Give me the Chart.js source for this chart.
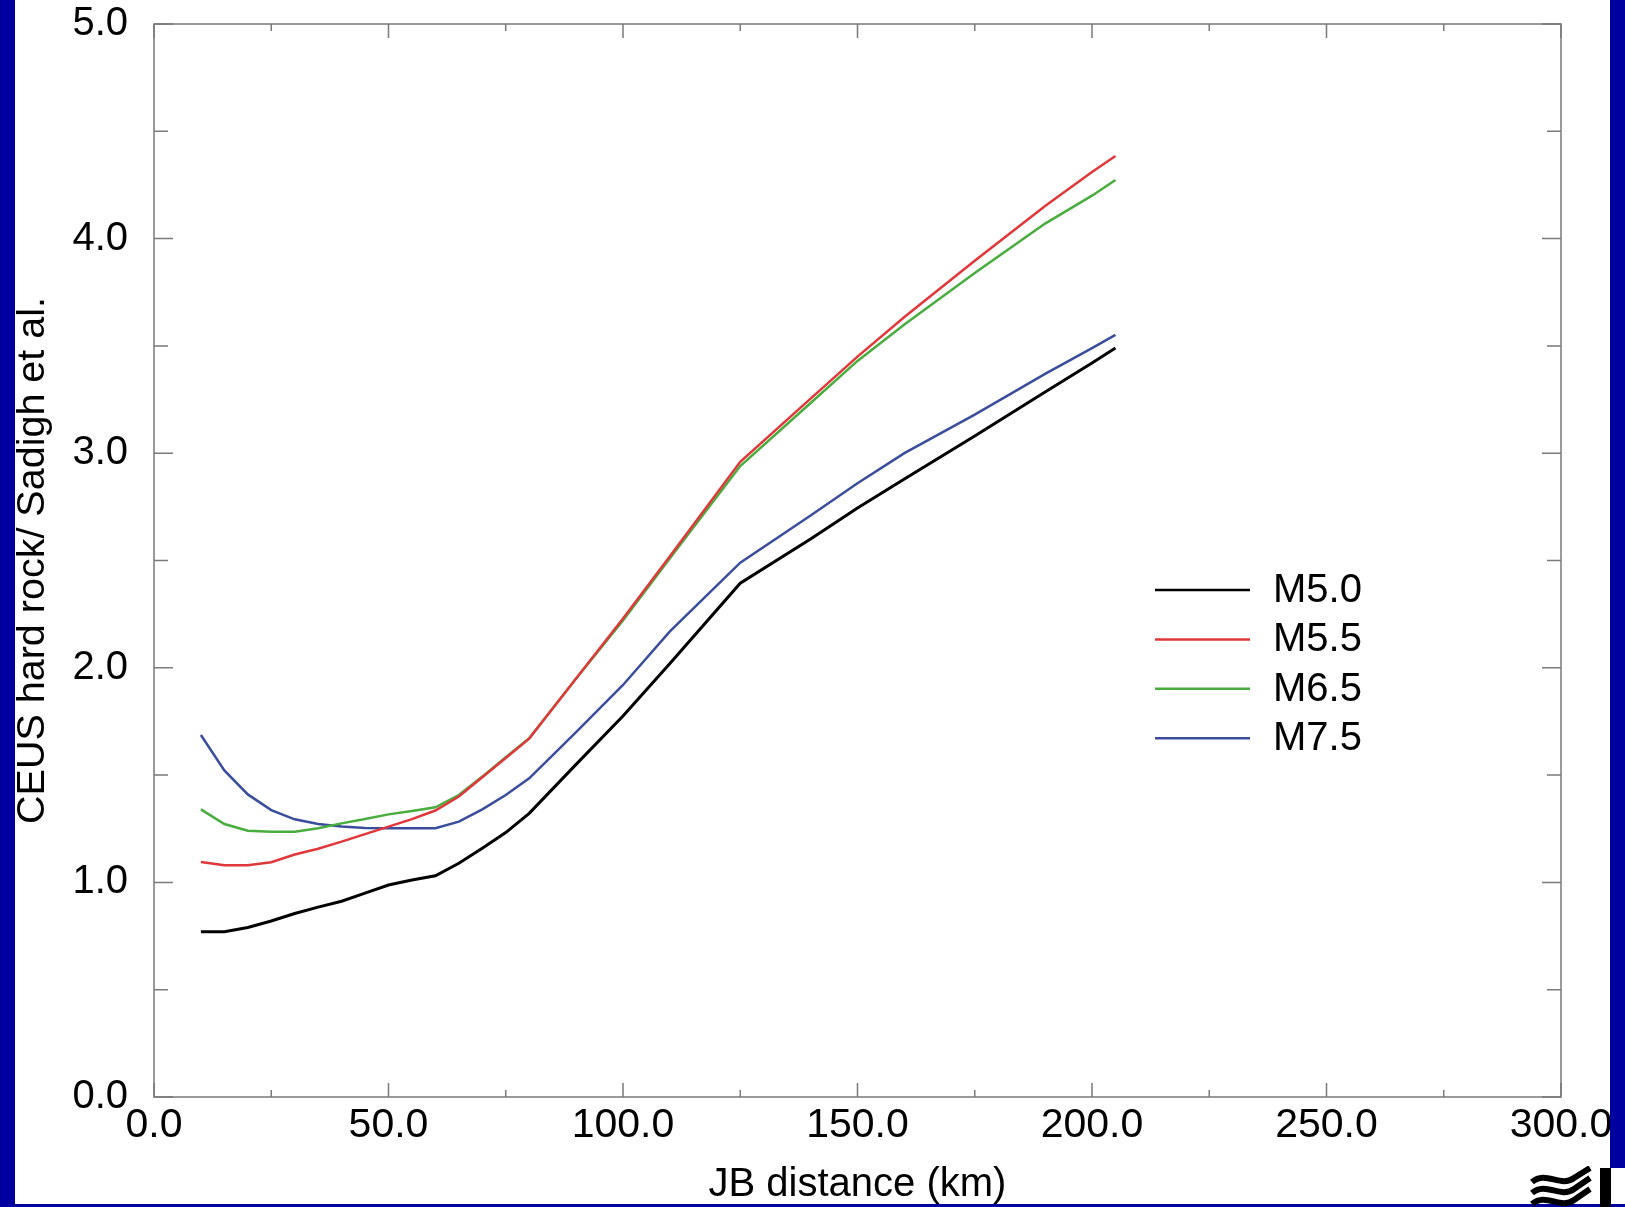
<!DOCTYPE html>
<html>
<head>
<meta charset="utf-8">
<script src="https://cdn.jsdelivr.net/npm/chart.js@4.4.0/dist/chart.umd.min.js"></script>
<style>
    html, body { margin: 0; padding: 0; background: #fff; }
    #wrap { position: relative; width: 1625px; height: 1207px; overflow: hidden; }
    #chart { position: absolute; left: 0; top: 0; }
    .bar { position: absolute; background: #0000a0; z-index: 2; }
    #logo { position: absolute; left: 1530px; top: 1166px; z-index: 3; }
</style>
</head>
<body>
<div id="wrap">
    <canvas id="chart" width="1625" height="1207"></canvas>
    <div class="bar" style="left:0;top:0;width:15px;height:1207px;"></div>
    <div class="bar" style="left:1610px;top:0;width:15px;height:1168px;"></div>
    <div class="bar" style="left:0;top:1204px;width:1625px;height:3px;"></div>
    <svg id="logo" width="95" height="41" viewBox="0 0 95 41">
        <path d="M2 16 C 16 4, 30 22, 44 12 L 60 2" stroke="#000" stroke-width="6" fill="none"/>
        <path d="M2 27 C 16 15, 30 33, 44 23 L 60 12" stroke="#000" stroke-width="6" fill="none"/>
        <path d="M2 38 C 16 26, 30 44, 44 34 L 60 23" stroke="#000" stroke-width="6" fill="none"/>
        <rect x="70" y="2" width="11" height="39" fill="#000"/>
    </svg>
</div>
<script>
// Ratio CEUS hard rock / Sadigh et al. vs. JB distance
const distance = [10, 15, 20, 25, 30, 35, 40, 45, 50, 55, 60, 65, 70, 75, 80, 90, 100, 110, 125, 140, 150, 160, 175, 190, 200, 205];

const m50 = [0.77, 0.77, 0.79, 0.82, 0.855, 0.885, 0.912, 0.95, 0.988, 1.011, 1.031, 1.089, 1.159, 1.232, 1.322, 1.55, 1.775, 2.02, 2.394, 2.6, 2.745, 2.88, 3.08, 3.285, 3.42, 3.49];
const m55 = [1.095, 1.08, 1.08, 1.094, 1.13, 1.157, 1.19, 1.225, 1.26, 1.295, 1.335, 1.40, 1.49, 1.58, 1.67, 1.95, 2.23, 2.52, 2.96, 3.254, 3.45, 3.635, 3.897, 4.152, 4.31, 4.385];
const m65 = [1.34, 1.272, 1.241, 1.236, 1.236, 1.252, 1.275, 1.295, 1.317, 1.333, 1.35, 1.407, 1.493, 1.583, 1.672, 1.95, 2.22, 2.51, 2.94, 3.234, 3.43, 3.60, 3.84, 4.07, 4.20, 4.273];
const m75 = [1.687, 1.522, 1.41, 1.337, 1.294, 1.272, 1.26, 1.254, 1.252, 1.252, 1.252, 1.283, 1.34, 1.407, 1.485, 1.70, 1.92, 2.17, 2.49, 2.71, 2.86, 3.0, 3.18, 3.37, 3.49, 3.551];

const seriesLabels = ['M5.0', 'M5.5', 'M6.5', 'M7.5'];
const seriesColors = ['#000000', '#e0383a', '#48ad3e', '#3a4d9c'];

const xTicks = { min: 0, max: 300, minor: 25, major: 50 };
const yTicks = { min: 0, max: 5, minor: 0.5, major: 1 };

const FONT = "'Liberation Sans', Arial, Helvetica, sans-serif";

function toPoints(values) {
    return distance.map((d, i) => ({ x: d, y: values[i] }));
}

// frame + inward tick marks on all four sides
const frameTicks = {
    id: 'frameTicks',
    afterDraw(chart) {
        const { ctx, chartArea: a } = chart;
        const xs = chart.scales.x;
        const ys = chart.scales.y;
        ctx.save();
        ctx.strokeStyle = '#7a7a7a';
        ctx.lineWidth = 1.5;
        ctx.strokeRect(a.left, a.top, a.right - a.left, a.bottom - a.top);
        ctx.beginPath();
        xs.ticks.forEach(t => {
            const px = xs.getPixelForValue(t.value);
            const len = t.value % xTicks.major === 0 ? 14 : 7;
            ctx.moveTo(px, a.bottom); ctx.lineTo(px, a.bottom - len);
            ctx.moveTo(px, a.top); ctx.lineTo(px, a.top + len);
        });
        ys.ticks.forEach(t => {
            const py = ys.getPixelForValue(t.value);
            const len = Math.abs(t.value % yTicks.major) < 1e-9 ? 19 : 14;
            ctx.moveTo(a.left, py); ctx.lineTo(a.left + len, py);
            ctx.moveTo(a.right, py); ctx.lineTo(a.right - len, py);
        });
        ctx.stroke();
        ctx.restore();
    }
};

// legend drawn inside the plot area
const insideLegend = {
    id: 'insideLegend',
    afterDraw(chart, args, opts) {
        const { ctx } = chart;
        ctx.save();
        ctx.font = '40px ' + FONT;
        ctx.textBaseline = 'middle';
        ctx.textAlign = 'left';
        chart.data.datasets.forEach((ds, i) => {
            const y = opts.top + i * opts.rowGap;
            ctx.strokeStyle = ds.borderColor;
            ctx.lineWidth = 2.5;
            ctx.beginPath();
            ctx.moveTo(opts.lineX0, y);
            ctx.lineTo(opts.lineX1, y);
            ctx.stroke();
            ctx.fillStyle = '#000';
            ctx.fillText(ds.label, opts.textX, y + 1);
        });
        ctx.restore();
    }
};

Chart.defaults.font.family = FONT;
Chart.defaults.color = '#000';

const ctx = document.getElementById('chart').getContext('2d');
new Chart(ctx, {
    type: 'line',
    data: {
        datasets: [m50, m55, m65, m75].map((vals, i) => ({
            label: seriesLabels[i],
            data: toPoints(vals),
            borderColor: seriesColors[i],
            backgroundColor: seriesColors[i],
            borderWidth: i === 0 ? 3 : 2.5,
            pointRadius: 0,
            tension: 0,
            fill: false
        }))
    },
    options: {
        responsive: false,
        animation: false,
        layout: { padding: { left: 0, top: 24, right: 64, bottom: 0 } },
        plugins: {
            legend: { display: false },
            tooltip: { enabled: false },
            insideLegend: { lineX0: 1155, lineX1: 1250, textX: 1273, top: 590, rowGap: 49.4 }
        },
        scales: {
            x: {
                type: 'linear',
                min: xTicks.min,
                max: xTicks.max,
                grid: { display: false, drawTicks: false },
                border: { display: false },
                ticks: {
                    stepSize: xTicks.minor,
                    autoSkip: false,
                    maxRotation: 0,
                    padding: 4,
                    font: { size: 41 },
                    callback: v => (v % xTicks.major === 0 ? v.toFixed(1) : '')
                },
                title: {
                    display: true,
                    text: 'JB distance (km)',
                    font: { size: 40, lineHeight: 1.0 },
                    padding: { top: 0, bottom: 2 }
                },
                afterFit(scale) { scale.height = 110; }
            },
            y: {
                type: 'linear',
                min: yTicks.min,
                max: yTicks.max,
                grid: { display: false, drawTicks: false },
                border: { display: false },
                ticks: {
                    stepSize: yTicks.minor,
                    autoSkip: false,
                    padding: 26,
                    font: { size: 40 },
                    callback: v => (Math.abs(v % yTicks.major) < 1e-9 ? v.toFixed(1) : '')
                },
                title: {
                    display: true,
                    text: 'CEUS hard rock/ Sadigh et al.',
                    font: { size: 39.5, lineHeight: 1.2 },
                    padding: { top: 9, bottom: 0 }
                },
                afterFit(scale) {
                    scale.width = 154;
                    scale.paddingTop = 0;
                    scale.paddingBottom = 0;
                }
            }
        }
    },
    plugins: [frameTicks, insideLegend]
});
</script>
</body>
</html>
